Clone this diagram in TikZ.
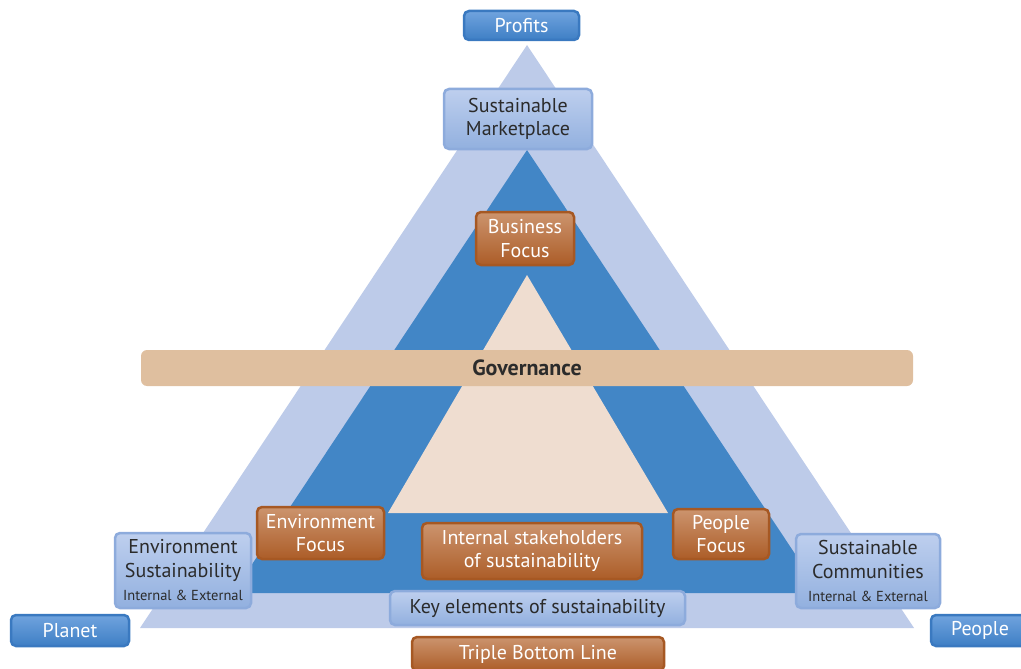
\documentclass[tikz,border=0pt]{standalone}
\usepackage{fontspec}
\setmainfont{PT Sans}
\definecolor{paleblue}{HTML}{BDCBE9}
\definecolor{midblue}{HTML}{4286C6}
\definecolor{sand}{HTML}{EFDDD0}
\definecolor{govtan}{HTML}{DFBF9F}
\definecolor{inktext}{HTML}{2B2B2B}
\newcommand{\subline}[1]{{\fontsize{14.5}{16}\selectfont #1}}
\tikzset{
  boxbase/.style={rounded corners=5pt, line width=2.5pt, align=center, inner sep=0pt, font=\fontsize{20}{23.5}\selectfont},
  bluebox/.style={boxbase, draw={rgb,255:red,58;green,121;blue,192}, top color={rgb,255:red,112;green,163;blue,222}, bottom color={rgb,255:red,62;green,127;blue,197}, text=white},
  lightbox/.style={boxbase, draw={rgb,255:red,141;green,171;blue,220}, top color={rgb,255:red,190;green,207;blue,238}, bottom color={rgb,255:red,146;green,176;blue,223}, text=inktext},
  orangebox/.style={boxbase, draw={rgb,255:red,166;green,88;blue,35}, top color={rgb,255:red,204;green,148;blue,110}, bottom color={rgb,255:red,172;green,93;blue,40}, text=white}
}
\begin{document}
\begin{tikzpicture}[x=1pt,y=-1pt]
	\useasboundingbox (0,0) rectangle (1021,669);
	\clip (0,0) rectangle (1021,669);
	% the three triangles
	\fill[paleblue] (140,628) -- (527,45) -- (914,628) -- cycle;
	\fill[midblue] (233,593) -- (527,150) -- (821,593) -- cycle;
	\fill[sand] (388,513) -- (527,275) -- (668,513) -- cycle;
	% governance bar
	\node (gov) at (527,368) [fill=govtan, rounded corners=6pt, minimum width=772pt, minimum height=36pt, font=\fontsize{22}{24}\selectfont\bfseries, text=inktext] {Governance};
	% corners of the triple bottom line
	\node (profits) at (521.5,25.5) [bluebox, minimum width=115pt, minimum height=29pt] {Profits};
	\node (planet) at (70,630.5) [bluebox, minimum width=118pt, minimum height=31pt] {Planet};
	\node (people) at (980,630.5) [bluebox, minimum width=98pt, minimum height=31pt] {People};
	% key elements
	\node (market) at (518,119) [lightbox, minimum width=148pt, minimum height=60pt] {Sustainable\\Marketplace};
	\node (envsus) at (183,570.5) [lightbox, minimum width=136pt, minimum height=75pt] {Environment\\Sustainability\\\subline{Internal \& External}};
	\node (community) at (868,571) [lightbox, minimum width=144pt, minimum height=74pt] {Sustainable\\Communities\\\subline{Internal \& External}};
	\node (keyel) at (537.5,608) [lightbox, minimum width=295pt, minimum height=34pt] {Key elements of sustainability};
	% focus areas
	\node (business) at (525,238.5) [orangebox, minimum width=98pt, minimum height=53pt] {Business\\Focus};
	\node (envfocus) at (320.5,533) [orangebox, minimum width=127pt, minimum height=52pt] {Environment\\Focus};
	\node (peoplefocus) at (721,534) [orangebox, minimum width=96pt, minimum height=50pt] {People\\Focus};
	\node (internal) at (532,551) [orangebox, minimum width=220pt, minimum height=56pt] {Internal stakeholders\\of sustainability};
	\node (tbl) at (538,654) [orangebox, minimum width=252pt, minimum height=34pt] {Triple Bottom Line};
\end{tikzpicture}
\end{document}
